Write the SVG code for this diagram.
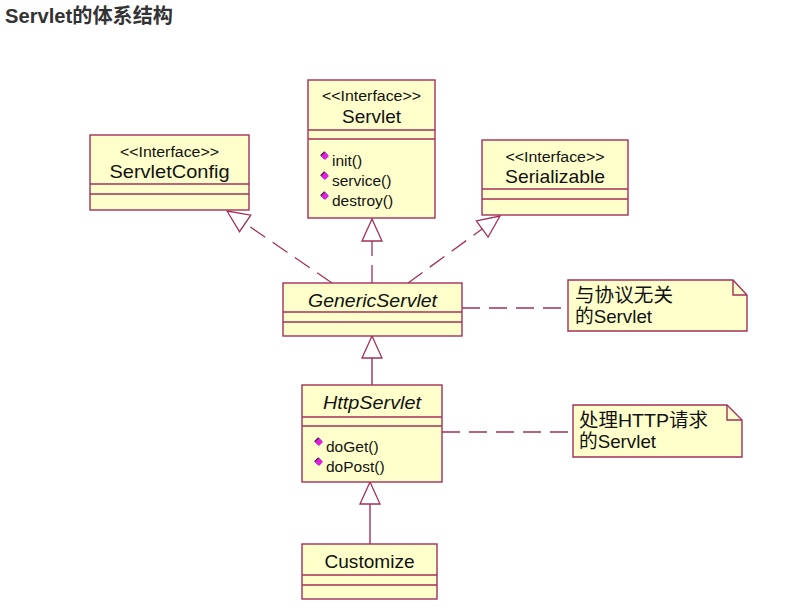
<svg xmlns="http://www.w3.org/2000/svg" width="812" height="612" viewBox="0 0 812 612">
<defs>
<marker id="tri" viewBox="0 0 24 22" markerWidth="24" markerHeight="22" refX="23" refY="11" orient="auto" markerUnits="userSpaceOnUse">
<path d="M1,1 L23,11 L1,21 Z" fill="#fff" stroke="#a3305a" stroke-width="1.3"/>
</marker>
<symbol id="dia" viewBox="-5 -5 10 10" overflow="visible">
<path d="M-0.8,-4.8 L3.2,-0.8 L-0.8,3.2 L-4.8,-0.8 Z" fill="#301030"/>
<path d="M0,-4 L4,0 L0,4 L-4,0 Z" fill="#e020e0"/>
</symbol>
</defs>
<style>
.box{fill:#ffffcc;stroke:#a3305a;stroke-width:1.4}
.ln{stroke:#a3305a;stroke-width:1.4;fill:none}
.dash{stroke:#a3305a;stroke-width:1.3;fill:none;stroke-dasharray:18 9}
.t{font-family:"Liberation Sans",Arial,"Noto Sans CJK SC",sans-serif;fill:#111}
.st{font-size:14px;text-anchor:middle}
.nm{font-size:19px;text-anchor:middle}
.it{font-style:italic}
.m{font-size:15.5px}
.note{font-family:"Liberation Sans",Arial,"Noto Sans CJK SC",sans-serif;font-size:19px;fill:#111}
</style>
<rect width="812" height="612" fill="#fff"/>
<text x="5" y="23" style="font-family:'Liberation Sans',Arial,'Noto Sans CJK SC',sans-serif;font-size:20px;font-weight:bold;fill:#333" textLength="168" lengthAdjust="spacingAndGlyphs">Servlet的体系结构</text>

<g id="connectors">
<line class="dash" x1="332" y1="283" x2="227" y2="211" marker-end="url(#tri)"/>
<line class="dash" x1="372" y1="283" x2="372" y2="219" marker-end="url(#tri)"/>
<line class="dash" x1="408" y1="283" x2="500" y2="216" marker-end="url(#tri)"/>
<line class="ln" x1="372" y1="385" x2="372" y2="336" marker-end="url(#tri)"/>
<line class="ln" x1="370" y1="544" x2="370" y2="482" marker-end="url(#tri)"/>
<line class="dash" x1="462" y1="308" x2="568" y2="308"/>
<line class="dash" x1="442" y1="432" x2="573" y2="432"/>
</g>

<g id="servlet">
<rect class="box" x="308" y="80" width="127" height="138"/>
<line class="ln" x1="308" y1="130" x2="435" y2="130"/>
<line class="ln" x1="308" y1="139" x2="435" y2="139"/>
<text class="t st" x="371.5" y="101" textLength="99" lengthAdjust="spacingAndGlyphs">&lt;&lt;Interface&gt;&gt;</text>
<text class="t nm" x="371.5" y="123" textLength="59" lengthAdjust="spacingAndGlyphs">Servlet</text>
<use href="#dia" x="320" y="151" width="10" height="10"/>
<text class="t m" x="332" y="166">init()</text>
<use href="#dia" x="320" y="171" width="10" height="10"/>
<text class="t m" x="332" y="186">service()</text>
<use href="#dia" x="320" y="191" width="10" height="10"/>
<text class="t m" x="332" y="206">destroy()</text>
</g>

<g id="servletconfig">
<rect class="box" x="90" y="135" width="159" height="75"/>
<line class="ln" x1="90" y1="184" x2="249" y2="184"/>
<line class="ln" x1="90" y1="194" x2="249" y2="194"/>
<text class="t st" x="169.5" y="157" textLength="99" lengthAdjust="spacingAndGlyphs">&lt;&lt;Interface&gt;&gt;</text>
<text class="t nm" x="169.5" y="178" textLength="120" lengthAdjust="spacingAndGlyphs">ServletConfig</text>
</g>

<g id="serializable">
<rect class="box" x="482" y="140" width="146" height="75"/>
<line class="ln" x1="482" y1="189" x2="628" y2="189"/>
<line class="ln" x1="482" y1="199" x2="628" y2="199"/>
<text class="t st" x="555" y="162" textLength="99" lengthAdjust="spacingAndGlyphs">&lt;&lt;Interface&gt;&gt;</text>
<text class="t nm" x="555" y="183" textLength="100" lengthAdjust="spacingAndGlyphs">Serializable</text>
</g>

<g id="genericservlet">
<rect class="box" x="283" y="283" width="179" height="53"/>
<line class="ln" x1="283" y1="312" x2="462" y2="312"/>
<line class="ln" x1="283" y1="322" x2="462" y2="322"/>
<text class="t nm it" x="372.5" y="307" textLength="129" lengthAdjust="spacingAndGlyphs">GenericServlet</text>
</g>

<g id="httpservlet">
<rect class="box" x="302" y="385" width="140" height="97"/>
<line class="ln" x1="302" y1="417" x2="442" y2="417"/>
<line class="ln" x1="302" y1="426" x2="442" y2="426"/>
<text class="t nm it" x="372" y="409" textLength="98" lengthAdjust="spacingAndGlyphs">HttpServlet</text>
<use href="#dia" x="314" y="437" width="10" height="10"/>
<text class="t m" x="326" y="452">doGet()</text>
<use href="#dia" x="314" y="457" width="10" height="10"/>
<text class="t m" x="326" y="472">doPost()</text>
</g>

<g id="customize">
<rect class="box" x="302" y="544" width="135" height="55"/>
<line class="ln" x1="302" y1="575" x2="437" y2="575"/>
<line class="ln" x1="302" y1="585" x2="437" y2="585"/>
<text class="t nm" x="369.5" y="568" textLength="90" lengthAdjust="spacingAndGlyphs">Customize</text>
</g>

<g id="note1">
<path class="box" d="M568,280 L733,280 L747,295 L747,331 L568,331 Z"/>
<path class="ln" d="M733,280 L733,295 L747,295"/>
<text class="note" x="575" y="302" textLength="98" lengthAdjust="spacingAndGlyphs">与协议无关</text>
<text class="note" x="575" y="323" textLength="77" lengthAdjust="spacingAndGlyphs">的Servlet</text>
</g>

<g id="note2">
<path class="box" d="M573,405 L727,405 L742,420 L742,457 L573,457 Z"/>
<path class="ln" d="M727,405 L727,420 L742,420"/>
<text class="note" x="579" y="427" textLength="129" lengthAdjust="spacingAndGlyphs">处理HTTP请求</text>
<text class="note" x="579" y="448" textLength="77" lengthAdjust="spacingAndGlyphs">的Servlet</text>
</g>
</svg>
